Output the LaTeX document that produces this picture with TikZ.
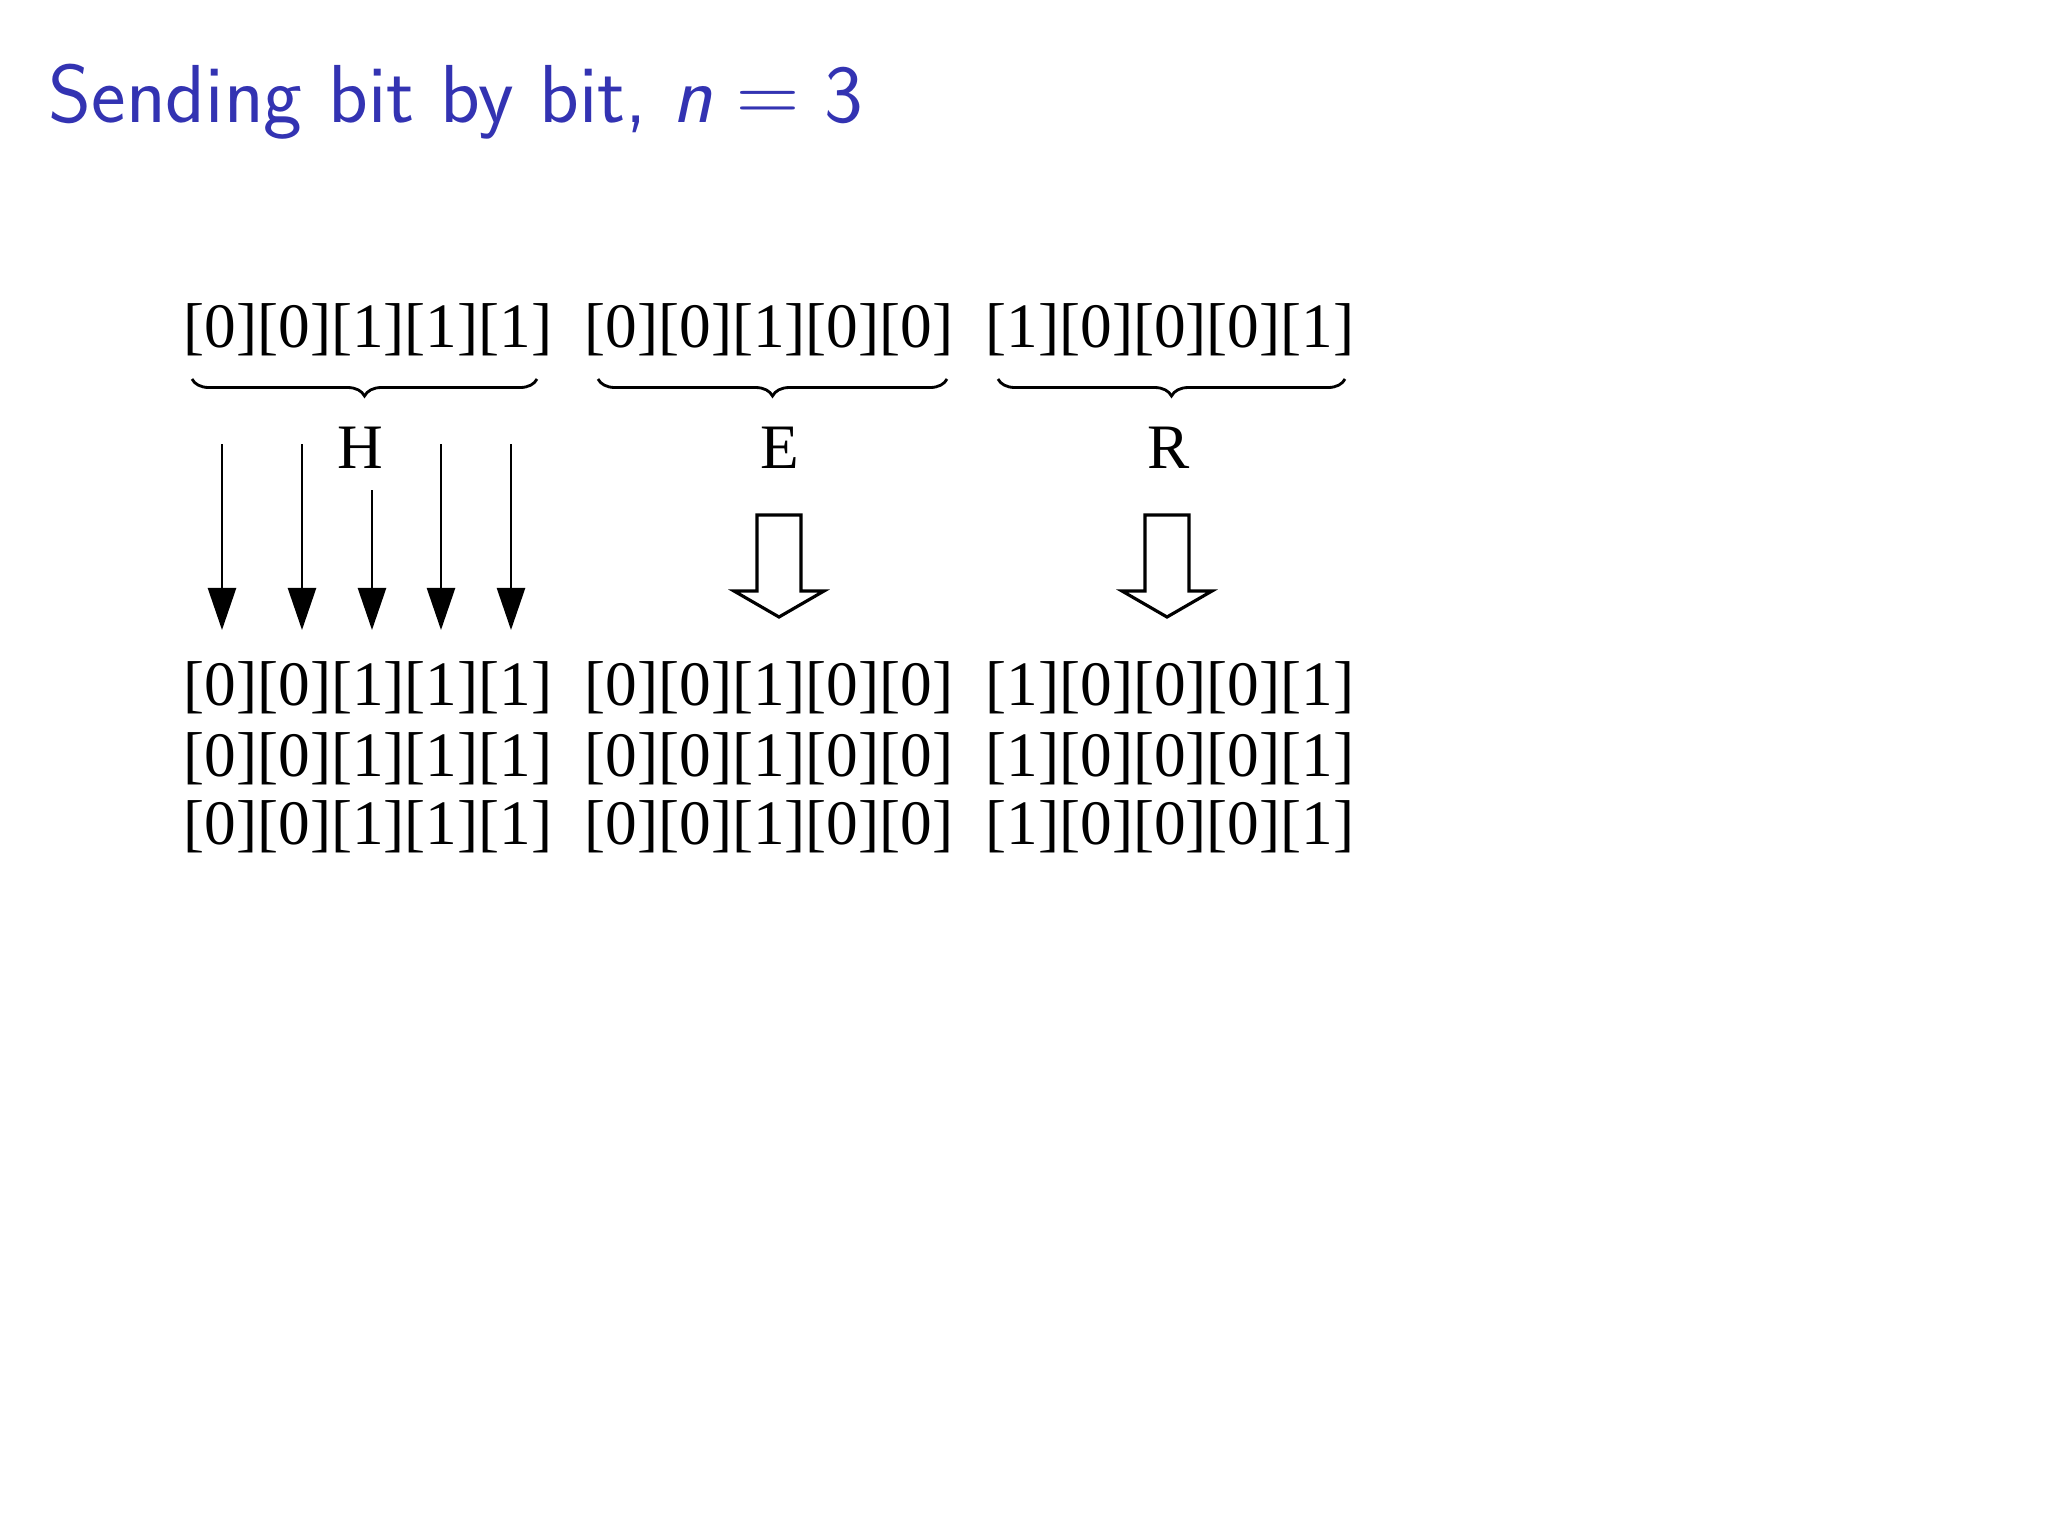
\documentclass[tikz,border=0pt]{standalone}
\usepackage{fontspec}
\usepackage{tikz}
\definecolor{titleblue}{RGB}{51, 51, 178}
\newfontfamily\bitfont{Liberation Serif}
\usetikzlibrary{arrows.meta, decorations.pathreplacing, positioning}

\begin{document}
\begin{tikzpicture}[
    x=0.01cm, y=-0.01cm,
    bits/.style={inner sep=0pt, font=\bitfont\fontsize{18}{18}\selectfont},
    letter/.style={inner sep=0pt, font=\bitfont\fontsize{18}{18}\selectfont},
    brc/.style={decorate, decoration={brace, mirror, amplitude=0.17cm}, line width=0.8pt},
    bitarrow/.style={-{Triangle[length=0.42cm, width=0.28cm]}, line width=0.7pt},
    hollow/.style={draw, line width=0.9pt, fill=white}
]
    \useasboundingbox (0,0) rectangle (2048,1536);

    \node[anchor=base west, inner sep=0pt, text=titleblue, font=\sffamily\fontsize{23.4}{23.4}\selectfont] (title) at (48,122) {Sending bit by bit, $\mbox{\itshape n} = \mbox{3}$};

    % message in bits
    \node[bits] (h0) at (368,330) {[0][0][1][1][1]};
    \node[bits] (e0) at (769,330) {[0][0][1][0][0]};
    \node[bits] (r0) at (1170,330) {[1][0][0][0][1]};

    \draw[brc] (192,379) -- (537,379);
    \draw[brc] (598,379) -- (947,379);
    \draw[brc] (998,379) -- (1345,379);

    \node[letter] (H) at (360,448) {H};
    \node[letter] (E) at (780,448) {E};
    \node[letter] (R) at (1169,448) {R};

    % every bit sent 3 times
    \foreach \i/\y in {1/688, 2/759, 3/827} {
        \node[bits] (h\i) at (368,\y) {[0][0][1][1][1]};
        \node[bits] (e\i) at (769,\y) {[0][0][1][0][0]};
        \node[bits] (r\i) at (1170,\y) {[1][0][0][0][1]};
    }

    \foreach \i/\x/\y in {1/222/444, 2/302/444, 3/372/490, 4/441/444, 5/511/444} {
        \coordinate (s\i) at (\x,\y);
        \coordinate (t\i) at (\x,630);
        \draw[bitarrow] (s\i) -- (t\i);
    }

    \coordinate (Etop) at (779,515);
    \coordinate (Rtop) at (1167,515);
    \foreach \c in {Etop, Rtop}
        \draw[hollow] (\c) ++(-22,0) -- ++(0,76) -- ++(-23,0) -- ++(45,26) -- ++(45,-26) -- ++(-23,0) -- ++(0,-76) -- cycle;
\end{tikzpicture}
\end{document}
